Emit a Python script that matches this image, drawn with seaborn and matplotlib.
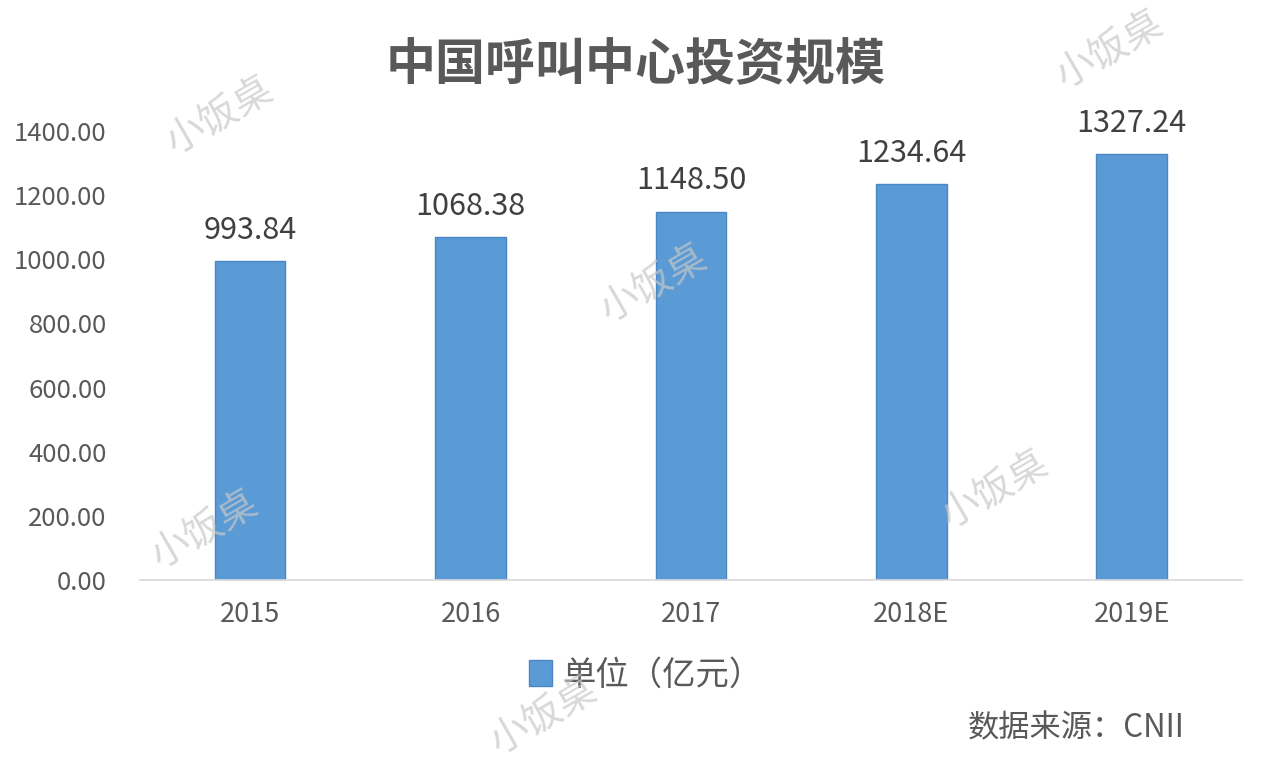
import pandas as pd
import numpy as np
import matplotlib.pyplot as plt
import seaborn as sns

# 数据
years = ['2015', '2016', '2017', '2018E', '2019E']
values = [993.84, 1068.38, 1148.50, 1234.64, 1327.24]
series_name = '单位（亿元）'

df = pd.DataFrame({'year': years, 'value': values, 'series': series_name})

sns.set_style('white')
plt.rcParams['font.family'] = ['Noto Sans CJK SC', 'DejaVu Sans']

text_color = '#595959'
bar_color = '#5B9BD5'

fig = plt.figure(figsize=(12.66, 7.74), dpi=100)
ax = fig.add_axes([0.1106, 0.2506, 0.8704, 0.5801])

sns.barplot(data=df, x='year', y='value', hue='series', palette=[bar_color],
            saturation=1, width=0.32, edgecolor='#4A86C5', linewidth=1, ax=ax)

ax.set_xlim(-0.5, 4.5)
ax.set_ylim(0, 1400)
ax.set_yticks(np.arange(0, 1401, 200))
ax.set_yticklabels([f'{v:.2f}' for v in np.arange(0, 1401, 200)])
ax.set_xlabel('')
ax.set_ylabel('')

for s in ['top', 'right', 'left']:
    ax.spines[s].set_visible(False)
ax.spines['bottom'].set_color('#D9D9D9')
ax.spines['bottom'].set_linewidth(1.2)

ax.tick_params(axis='y', length=0, pad=24, labelsize=18.5, labelcolor=text_color)
ax.tick_params(axis='x', length=0, pad=15, labelsize=19.5, labelcolor=text_color)

# 数据标签
for c in ax.containers:
    ax.bar_label(c, fmt='%.2f', padding=11, fontsize=22, color='#404040')

# 图例
sns.move_legend(ax, 'center', bbox_to_anchor=(0.51, 0.128), bbox_transform=fig.transFigure,
                frameon=False, title=None, fontsize=24, handlelength=0.7,
                handleheight=0.8, handletextpad=0.3)
for t in ax.get_legend().get_texts():
    t.set_color(text_color)

# 标题
fig.text(0.502, 0.915, '中国呼叫中心投资规模', ha='center', va='center',
         fontsize=36, fontweight='bold', color=text_color)

# 数据来源
fig.text(0.936, 0.059, '数据来源：CNII', ha='right', va='center',
         fontsize=22.5, color=text_color)

# 水印
marks = [(0.174, 0.85), (0.877, 0.935), (0.517, 0.632), (0.162, 0.315),
         (0.786, 0.367), (0.43, 0.075)]
for x, y in marks:
    fig.text(x, y, '小饭桌', ha='center', va='center', fontsize=28,
             color='#C8C8C8', alpha=0.7, rotation=30, fontweight='light')

plt.savefig('out.png', dpi=100)
